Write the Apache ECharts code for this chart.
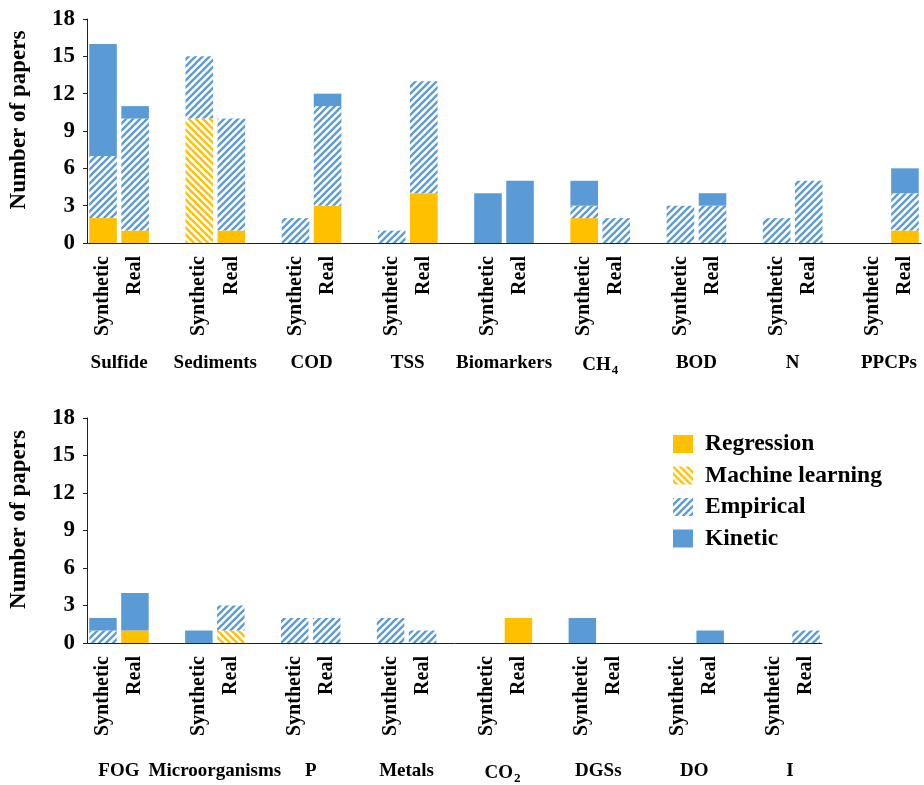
<!DOCTYPE html>
<html>
<head>
<meta charset="utf-8">
<script src="https://cdn.jsdelivr.net/npm/echarts@6/dist/echarts.min.js"></script>
<style>
  html, body { margin: 0; padding: 0; background: #fff; }
  #chart { width: 924px; height: 785px; }
</style>
</head>
<body>
<div id="chart"></div>
<script>
// Parameters (groups) of each panel
const topGroups = ['Sulfide', 'Sediments', 'COD', 'TSS', 'Biomarkers', 'CH4', 'BOD', 'N', 'PPCPs'];
const bottomGroups = ['FOG', 'Microorganisms', 'P', 'Metals', 'CO2', 'DGSs', 'DO', 'I'];

// Sample types inside each group
const sampleTypes = ['Synthetic', 'Real'];

// Model types (stack order, bottom to top)
const methods = ['Regression', 'Machine learning', 'Empirical', 'Kinetic'];

// Number of papers, upper panel (one value per group)
const topRegressionSyn  = [2, 0, 0, 0, 0, 2, 0, 0, 0];
const topRegressionReal = [1, 1, 3, 4, 0, 0, 0, 0, 1];
const topMLSyn          = [0, 10, 0, 0, 0, 0, 0, 0, 0];
const topMLReal         = [0, 0, 0, 0, 0, 0, 0, 0, 0];
const topEmpiricalSyn   = [5, 5, 2, 1, 0, 1, 3, 2, 0];
const topEmpiricalReal  = [9, 9, 8, 9, 0, 2, 3, 5, 3];
const topKineticSyn     = [9, 0, 0, 0, 4, 2, 0, 0, 0];
const topKineticReal    = [1, 0, 1, 0, 5, 0, 1, 0, 2];

// Number of papers, lower panel
const bottomRegressionSyn  = [0, 0, 0, 0, 0, 0, 0, 0];
const bottomRegressionReal = [1, 0, 0, 0, 2, 0, 0, 0];
const bottomMLSyn          = [0, 0, 0, 0, 0, 0, 0, 0];
const bottomMLReal         = [0, 1, 0, 0, 0, 0, 0, 0];
const bottomEmpiricalSyn   = [1, 0, 2, 2, 0, 0, 0, 0];
const bottomEmpiricalReal  = [0, 2, 2, 1, 0, 0, 0, 1];
const bottomKineticSyn     = [1, 1, 0, 0, 0, 2, 0, 0];
const bottomKineticReal    = [3, 0, 0, 0, 0, 0, 1, 0];

// Value axis ticks
const yTicks = [0, 3, 6, 9, 12, 15, 18];

const FONT = '"Liberation Serif", "Times New Roman", serif';
const GOLD = '#FFC000';
const BLUE = '#5B9BD5';

// Diagonal hatch tile; dir = 1 for "/" stripes, -1 for "\" stripes
function hatch(color, dir) {
  const s = 7;
  const c = document.createElement('canvas');
  c.width = s; c.height = s;
  const ctx = c.getContext('2d');
  ctx.fillStyle = '#fff';
  ctx.fillRect(0, 0, s, s);
  ctx.strokeStyle = color;
  ctx.lineWidth = 2.3;
  ctx.beginPath();
  const segs = [[0, s, s, 0], [-s / 2, s / 2, s / 2, -s / 2], [s / 2, 3 * s / 2, 3 * s / 2, s / 2]];
  segs.forEach(([x1, y1, x2, y2]) => {
    if (dir > 0) { ctx.moveTo(x1, y1); ctx.lineTo(x2, y2); }
    else { ctx.moveTo(s - x1, y1); ctx.lineTo(s - x2, y2); }
  });
  ctx.stroke();
  return { image: c, repeat: 'repeat' };
}

const methodColors = [GOLD, hatch(GOLD, -1), hatch(BLUE, 1), BLUE];

// Category list: Synthetic, Real, spacer ... (no spacer after the last group)
function categories(groups) {
  const out = [];
  groups.forEach((g, i) => {
    sampleTypes.forEach(t => out.push(t));
    if (i < groups.length - 1) out.push('');
  });
  return out;
}
// Group labels sit on the boundary between Synthetic and Real
function groupLabels(groups) {
  const n = groups.length * 3;
  const out = new Array(n).fill('');
  groups.forEach((g, i) => { out[i * 3 + 1] = g; });
  return out;
}
function interleave(syn, real) {
  const out = [];
  syn.forEach((v, i) => {
    out.push(v ? v : '-');
    out.push(real[i] ? real[i] : '-');
    if (i < syn.length - 1) out.push('-');
  });
  return out;
}

const panels = [
  {
    groups: topGroups,
    values: [
      [topRegressionSyn, topRegressionReal],
      [topMLSyn, topMLReal],
      [topEmpiricalSyn, topEmpiricalReal],
      [topKineticSyn, topKineticReal]
    ],
    grid: { left: 86, right: 3, top: 19, height: 224 },
    groupMargin: 111
  },
  {
    groups: bottomGroups,
    values: [
      [bottomRegressionSyn, bottomRegressionReal],
      [bottomMLSyn, bottomMLReal],
      [bottomEmpiricalSyn, bottomEmpiricalReal],
      [bottomKineticSyn, bottomKineticReal]
    ],
    grid: { left: 85, width: 737, top: 418, height: 225 },
    groupMargin: 119
  }
];

const grids = [], xAxes = [], yAxes = [], series = [];
panels.forEach((p, pi) => {
  grids.push(p.grid);
  const cats = categories(p.groups);
  // sample-type axis carrying the bars
  xAxes.push({
    type: 'category', gridIndex: pi, data: cats, position: 'bottom',
    axisLine: { lineStyle: { color: '#222', width: 1 } },
    axisTick: { length: 5, lineStyle: { color: '#222' }, interval: (idx) => idx % 3 !== 1 },
    axisLabel: {
      interval: 0, rotate: 90, margin: 13,
      fontFamily: FONT, fontWeight: 'bold', fontSize: 20, color: '#000'
    }
  });
  // parameter name axis
  xAxes.push({
    type: 'category', gridIndex: pi, data: groupLabels(p.groups), position: 'bottom',
    boundaryGap: false,
    axisLine: { show: false }, axisTick: { show: false },
    axisLabel: {
      interval: 0, margin: p.groupMargin, color: '#000',
      formatter: (v) => {
        if (!v) return '';
        const m = v.match(/^(.*?)(\d)$/);
        return m ? '{m|' + m[1] + '}{s|' + m[2] + '}' : '{m|' + v + '}';
      },
      rich: {
        m: { fontFamily: FONT, fontWeight: 'bold', fontSize: 19, color: '#000' },
        s: { fontFamily: FONT, fontWeight: 'bold', fontSize: 13, color: '#000', padding: [10, 0, 0, 1] }
      }
    }
  });
  yAxes.push({
    type: 'value', gridIndex: pi, min: yTicks[0], max: yTicks[yTicks.length - 1], interval: yTicks[1] - yTicks[0],
    name: 'Number of papers', nameLocation: 'middle', nameGap: 56,
    nameTextStyle: { fontFamily: FONT, fontWeight: 'bold', fontSize: 23, color: '#000', padding: [0, 0, 0, 22] },
    axisLine: { show: true, lineStyle: { color: '#222', width: 1 } },
    axisTick: { show: true, length: 4, lineStyle: { color: '#222' } },
    splitLine: { show: false },
    axisLabel: { margin: 12, fontFamily: FONT, fontWeight: 'bold', fontSize: 23, color: '#000' }
  });
  methods.forEach((name, mi) => {
    series.push({
      type: 'bar', name: name, stack: 'panel' + pi,
      xAxisIndex: pi * 2, yAxisIndex: pi,
      barCategoryGap: '14%',
      itemStyle: { color: methodColors[mi] },
      data: interleave(p.values[mi][0], p.values[mi][1])
    });
  });
});

const chart = echarts.init(document.getElementById('chart'), null, { renderer: 'canvas' });
chart.setOption({
  animation: false,
  backgroundColor: '#fff',
  grid: grids,
  xAxis: xAxes,
  yAxis: yAxes,
  legend: {
    data: methods, orient: 'vertical', left: 673, top: 432, padding: 0,
    itemWidth: 20, itemHeight: 18, itemGap: 7.5, icon: 'rect',
    textStyle: {
      fontFamily: FONT, fontWeight: 'bold', fontSize: 23.5, color: '#000',
      padding: [0, 0, 0, 7]
    }
  },
  series: series
});
</script>
</body>
</html>
